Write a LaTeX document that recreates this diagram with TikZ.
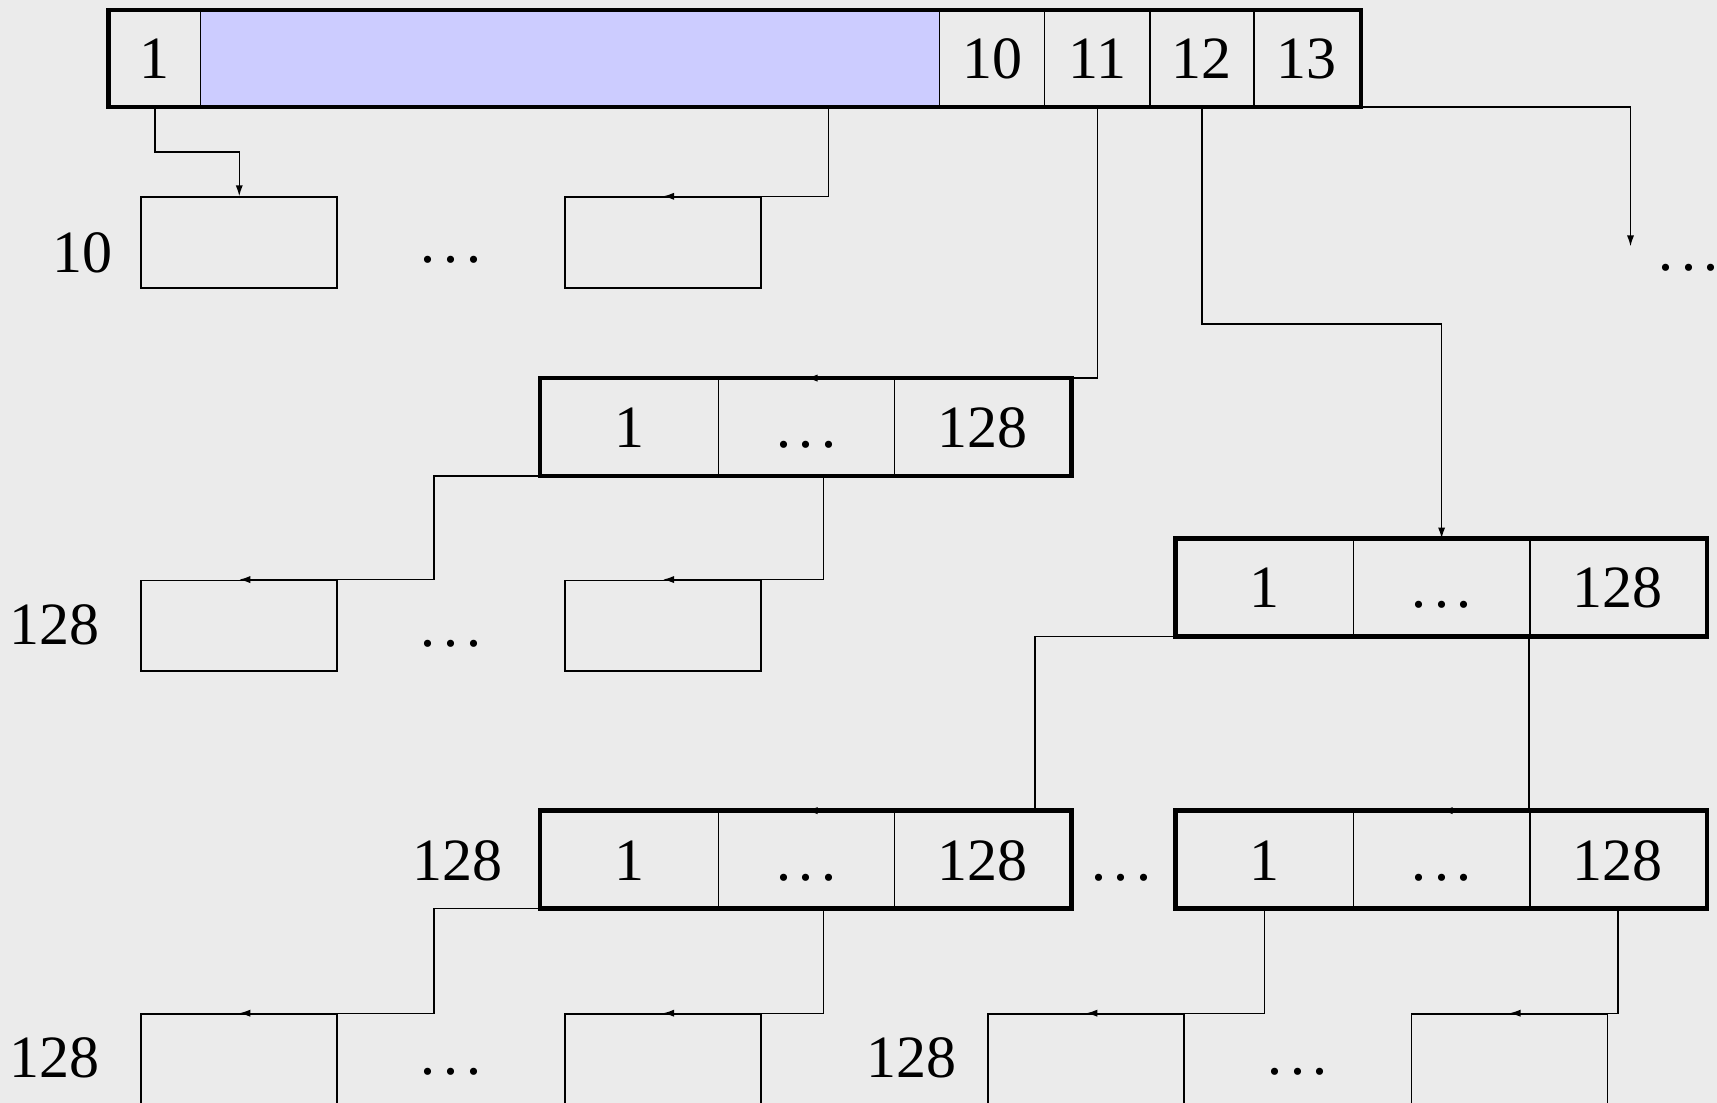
\documentclass[tikz,border=0pt]{standalone}
\usepackage{fontspec}
\setmainfont{Liberation Serif}
\usetikzlibrary{arrows.meta,calc}
\definecolor{bg}{RGB}{235,235,235}
\definecolor{cellblue}{RGB}{204,204,255}
\newcommand\mydots{.\kern.13em.\kern.13em.}
\begin{document}
\begin{tikzpicture}[x=0.5475pt,y=-0.5475pt,
  every node/.style={font=\fontsize{30}{36}\selectfont, inner sep=0pt, text height=20.4pt, text depth=0pt},
  cell/.style={draw, line width=0.8pt, minimum width=#1*0.5475pt},
  tcell/.style={cell=#1, minimum height=87*0.5475pt},
  mcell/.style={cell=#1, minimum height=88*0.5475pt},
  leaf/.style={draw, line width=0.8pt, minimum width=179*0.5475pt, minimum height=83*0.5475pt},
  lowleaf/.style={draw, line width=0.8pt, minimum width=179*0.5475pt, minimum height=120*0.5475pt},
  outer/.style={line width=2.3pt},
  conn/.style={line width=0.7pt, -{Latex[length=5.5pt,width=3.6pt]}},
  plain/.style={line width=0.7pt}]
\path[use as bounding box, fill=bg] (0,0) rectangle (1568,1007);

% top bar
\node[tcell=83] (t1) at (141.5,53.5) {1};
\node[tcell=675, fill=cellblue] (tb) at (520.5,53.5) {};
\node[tcell=96] (t10) at (906,53.5) {10};
\node[tcell=96] (t11) at (1002,53.5) {11};
\node[tcell=95] (t12) at (1097.5,53.5) {12};
\node[tcell=97] (t13) at (1193.5,53.5) {13};
\draw[outer] (t1.north west) rectangle (t13.south east);

% level 1 leaves
\node (l10) at (75,230) {10};
\node[leaf] (A) at (218.5,221.5) {};
\node (dA) at (412,221.5) {\mydots};
\node[leaf] (B) at (605.5,221.5) {};
\coordinate (more) at (1489,225);
\node (dmore) at (1542,228) {\mydots};

% middle box
\node[mcell=162] (m1) at (575,390) {1};
\node[mcell=161] (m2) at (736.5,390) {\mydots};
\node[mcell=161] (m3) at (897.5,390) {128};
\draw[outer] (m1.north west) rectangle (m3.south east);

% right box
\node[mcell=162] (r1) at (1155,536.5) {1};
\node[mcell=161] (r2) at (1316.5,536.5) {\mydots};
\node[mcell=161] (r3) at (1477.5,536.5) {128};
\draw[outer] (r1.north west) rectangle (r3.south east);

% level 2 leaves
\node (l128a) at (50,570) {128};
\node[leaf] (C) at (218.5,571.5) {};
\node (dC) at (412,571.5) {\mydots};
\node[leaf] (D) at (605.5,571.5) {};

% lower boxes
\node (l128b) at (418,785) {128};
\node[mcell=162] (l1) at (575,785) {1};
\node[mcell=161] (l2) at (736.5,785) {\mydots};
\node[mcell=161] (l3) at (897.5,785) {128};
\draw[outer] (l1.north west) rectangle (l3.south east);
\node (dLQ) at (1024,785) {\mydots};
\node[mcell=162] (q1) at (1155,785) {1};
\node[mcell=161] (q2) at (1316.5,785) {\mydots};
\node[mcell=161] (q3) at (1477.5,785) {128};
\draw[outer] (q1.north west) rectangle (q3.south east);

% bottom leaves
\node (l128c) at (50,965) {128};
\node[lowleaf] (E) at (218.5,986) {};
\node (dE) at (412,963) {\mydots};
\node[lowleaf] (F) at (605.5,986) {};
\node (l128d) at (832,965) {128};
\node[lowleaf] (G) at (992,986) {};
\node (dG) at (1185,963) {\mydots};
\node[lowleaf] (H) at (1378.5,986) {};

% connectors
\draw[conn] (t1.south) -- ++(0,41) -| (A.north);
\draw[conn] ($(tb.south west)!0.849!(tb.south east)$) |- (B.north);
\draw[conn] (t11.south) |- (m2.north);
\draw[conn] (t12.south) -- ++(0,198) -| (r2.north);
\draw[conn] (t13.south east) -| (more);

\draw[conn] (m1.south west) -- ++(-97,0) |- (C.north);
\draw[conn] ($(m2.south)+(15.5,0)$) |- (D.north);

\draw[conn] (r1.south west) -- ++(-128,0) |- (l2.north);
\draw[conn] (r3.south west) |- (q2.north);

\draw[conn] (l1.south west) -- ++(-97,0) |- (E.north);
\draw[conn] ($(l2.south)+(15.5,0)$) |- (F.north);
\draw[conn] (q1.south) |- (G.north);
\draw[conn] (q3.south) |- (H.north);
\end{tikzpicture}
\end{document}
